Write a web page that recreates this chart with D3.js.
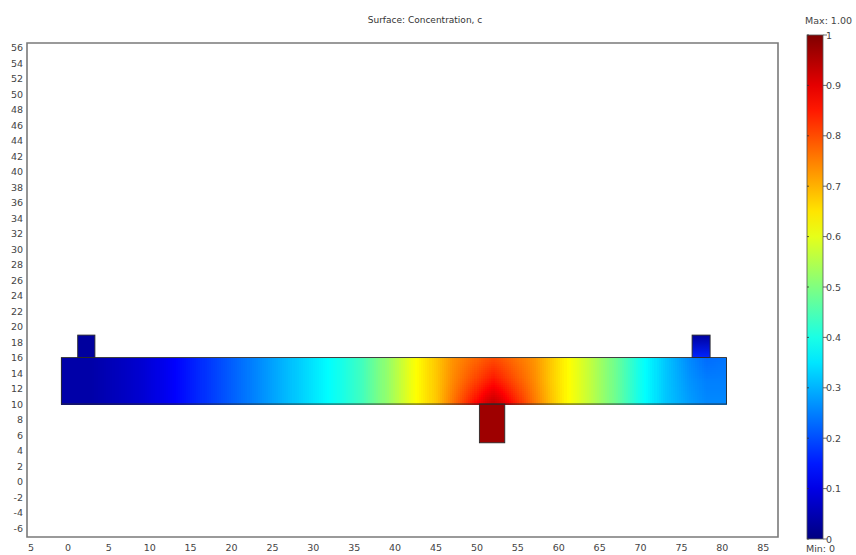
<!DOCTYPE html>
<html><head><meta charset="utf-8">
<script src="https://cdn.jsdelivr.net/npm/d3@7"></script>
<style>
html,body{margin:0;padding:0;background:#fff;overflow:hidden;}
svg{display:block;font-family:"DejaVu Sans",Verdana,sans-serif;}
</style></head>
<body>
<svg id="c" width="856" height="555"></svg>
<script>
// ---- data ----
const title = "Surface: Concentration, c";
const xTicks = [-5,0,5,10,15,20,25,30,35,40,45,50,55,60,65,70,75,80,85];
const xTickLabels = ["5","0","5","10","15","20","25","30","35","40","45","50","55","60","65","70","75","80","85"];
const yTicks = [56,54,52,50,48,46,44,42,40,38,36,34,32,30,28,26,24,22,20,18,16,14,12,10,8,6,4,2,0,-2,-4,-6];
const cTicks = [0,0.1,0.2,0.3,0.4,0.5,0.6,0.7,0.8,0.9,1];
const cTickLabels = ["0","0.1","0.2","0.3","0.4","0.5","0.6","0.7","0.8","0.9","1"];
// main channel geometry (domain units)
const channel = {x0:-0.8, x1:80.5, y0:10, y1:16};
// tabs: [x0,x1,y0,y1, cBottom, cTop]
const tabLeft  = [1.2, 3.3, 16, 18.9, 0.03, 0.03];
const tabRight = [76.3, 78.5, 16, 18.9, 0.16, 0.03];
const tabBottom= [50.3, 53.4, 5, 10, 0.97, 0.97];
// concentration samples along the channel, rows at y = 10, 13, 16
const rowY = [10, 13, 16];
const sampleX  = [-0.8,3,6,9,12,15,18,21,24,27,30,33,36,39,42,45,47,49,51,52,53,55,57,59,61,64,67,70,73,76,78,80.5];
const cTop     = [0.04,0.04,0.06,0.08,0.11,0.15,0.19,0.23,0.27,0.31,0.35,0.39,0.44,0.52,0.61,0.68,0.73,0.76,0.79,0.80,0.79,0.76,0.73,0.68,0.63,0.56,0.48,0.39,0.32,0.26,0.23,0.24];
const cMid     = [0.04,0.04,0.06,0.08,0.11,0.15,0.19,0.23,0.27,0.31,0.35,0.39,0.44,0.52,0.61,0.68,0.74,0.79,0.84,0.86,0.84,0.79,0.74,0.68,0.63,0.56,0.48,0.39,0.32,0.27,0.25,0.25];
const cBot     = [0.04,0.04,0.06,0.08,0.11,0.15,0.19,0.23,0.27,0.31,0.35,0.39,0.44,0.52,0.61,0.68,0.76,0.84,0.92,0.94,0.92,0.84,0.76,0.69,0.63,0.56,0.48,0.39,0.32,0.28,0.26,0.26];

// ---- layout ----
const svg = d3.select("#c");
const plot = {l:27, r:778, t:43, b:537};
const x = d3.scaleLinear().domain([-5, 86.8]).range([plot.l, plot.r]);
const y = d3.scaleLinear().domain([-7.16, 56.6]).range([plot.b, plot.t]);

function jet(t){
  t = Math.max(0, Math.min(1, t));
  const cl = v => Math.round(255*Math.max(0, Math.min(1, v)));
  return `rgb(${cl(1.5-Math.abs(4*t-3))},${cl(1.5-Math.abs(4*t-2))},${cl(1.5-Math.abs(4*t-1))})`;
}

const rowsC = [cBot, cMid, cTop];
const rowInterp = rowsC.map(arr => d3.scaleLinear().domain(sampleX).range(arr).clamp(true));
const yInterp = d3.scaleLinear().domain(rowY).range([0,1,2]).clamp(true);
function field(xv, yv){
  const f = yInterp(yv);
  const i = Math.min(1, Math.floor(f));
  const w = f - i;
  return rowInterp[i](xv)*(1-w) + rowInterp[i+1](xv)*w;
}

// ---- field cells ----
const g = svg.append("g").attr("shape-rendering","crispEdges");
const dx = 0.25, dy = 0.25;
const cells = [];
for (let xv = channel.x0; xv < channel.x1 - 1e-9; xv += dx){
  for (let yv = channel.y0; yv < channel.y1 - 1e-9; yv += dy){
    const x1v = Math.min(channel.x1, xv+dx), y1v = Math.min(channel.y1, yv+dy);
    cells.push({x0:xv, x1:x1v, y0:yv, y1:y1v, c:field((xv+x1v)/2,(yv+y1v)/2)});
  }
}
g.selectAll("rect.cell").data(cells).join("rect")
  .attr("x", d=>x(d.x0)).attr("y", d=>y(d.y1))
  .attr("width", d=>Math.min(x(d.x1), x(channel.x1))-x(d.x0)+0.6).attr("height", d=>y(d.y0)-y(d.y1)+0.6)
  .attr("fill", d=>jet(d.c));

// tabs with vertical gradient
const defs = svg.append("defs");
[tabLeft, tabRight, tabBottom].forEach((t,i)=>{
  const id = "tg"+i;
  const lg = defs.append("linearGradient").attr("id",id).attr("x1",0).attr("x2",0).attr("y1",1).attr("y2",0);
  lg.append("stop").attr("offset","0%").attr("stop-color",jet(t[4]));
  lg.append("stop").attr("offset","100%").attr("stop-color",jet(t[5]));
  svg.append("rect").attr("x",x(t[0])).attr("y",y(t[3]))
    .attr("width",x(t[1])-x(t[0])).attr("height",y(t[2])-y(t[3]))
    .attr("fill",`url(#${id})`).attr("stroke","#2a2a2a").attr("stroke-width",0.9);
});
svg.append("rect").attr("x",x(channel.x0)).attr("y",y(channel.y1))
  .attr("width",x(channel.x1)-x(channel.x0)).attr("height",y(channel.y0)-y(channel.y1))
  .attr("fill","none").attr("stroke","#2a2a2a").attr("stroke-width",0.9);

// ---- frame ----
svg.append("path").attr("d",`M${plot.l},${plot.t}H${plot.r}V${plot.b}H${plot.l}Z`)
  .attr("fill","none").attr("stroke","#7a7a7a").attr("stroke-width",1.6);

// ---- axes labels ----
svg.append("g").selectAll("text").data(yTicks).join("text")
  .attr("x",23).attr("y",d=>y(d)+3.5).attr("text-anchor","end")
  .attr("font-size",9.5).attr("fill","#444").text(d=>d);
svg.append("g").selectAll("text").data(xTicks).join("text")
  .attr("x",(d,i)=>x(d)+(i===0?4:0)).attr("y",551).attr("text-anchor","middle")
  .attr("font-size",9.5).attr("fill","#444").text((d,i)=>xTickLabels[i]);
svg.append("text").attr("x",425).attr("y",23).attr("text-anchor","middle")
  .attr("font-size",9).attr("fill","#333").text(title);

// ---- colorbar ----
const cb = {l:807, r:823, t:35, b:539};
const cy = d3.scaleLinear().domain([0,1]).range([cb.b, cb.t]);
const cg = defs.append("linearGradient").attr("id","cbg").attr("x1",0).attr("x2",0).attr("y1",1).attr("y2",0);
d3.range(0,1.0001,0.05).forEach(t=>cg.append("stop").attr("offset",(t*100)+"%").attr("stop-color",jet(t)));
svg.append("rect").attr("x",cb.l).attr("y",cb.t).attr("width",cb.r-cb.l).attr("height",cb.b-cb.t)
  .attr("fill","url(#cbg)").attr("stroke","#555").attr("stroke-width",0.8);
const ct = svg.append("g");
ct.selectAll("line.r").data(cTicks).join("line").attr("class","r")
  .attr("x1",cb.r).attr("x2",cb.r+4).attr("y1",d=>cy(d)).attr("y2",d=>cy(d))
  .attr("stroke","#444").attr("stroke-width",0.8);
ct.selectAll("line.l").data(cTicks).join("line").attr("class","l")
  .attr("x1",cb.l).attr("x2",cb.l+2).attr("y1",d=>cy(d)).attr("y2",d=>cy(d))
  .attr("stroke","#333").attr("stroke-width",0.8);
ct.selectAll("text").data(cTicks).join("text")
  .attr("x",cb.r+3).attr("y",d=>cy(d)+3.5).attr("font-size",9.5).attr("fill","#444")
  .text((d,i)=>cTickLabels[i]);
svg.append("text").attr("x",805).attr("y",24).attr("font-size",9.5).attr("fill","#444").text("Max: 1.00");
svg.append("text").attr("x",806).attr("y",552).attr("font-size",9.5).attr("fill","#444").text("Min: 0");
</script>
</body></html>
